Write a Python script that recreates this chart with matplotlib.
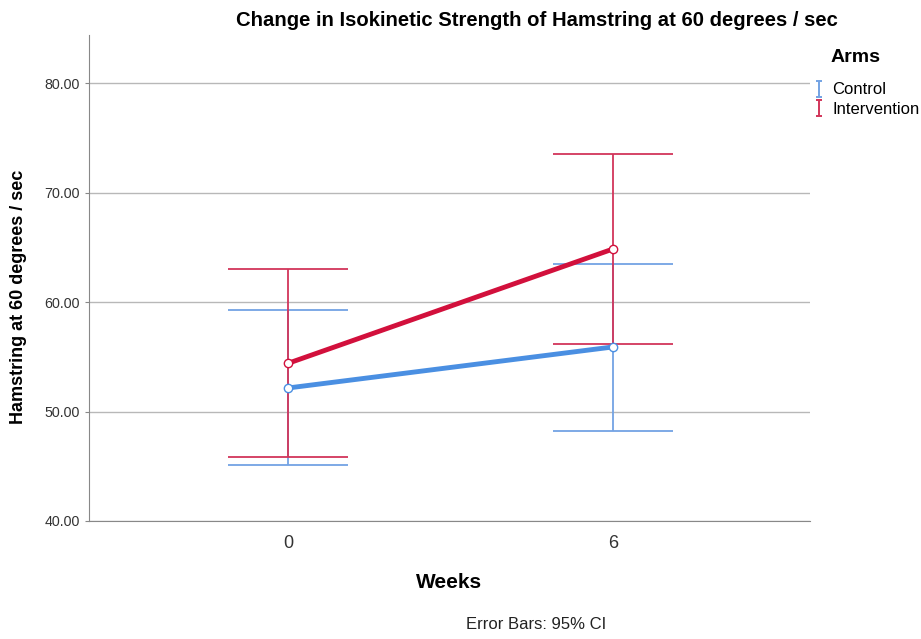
import matplotlib.pyplot as plt
from matplotlib.lines import Line2D
from matplotlib.path import Path

plt.rcParams['font.family'] = ['Liberation Sans', 'DejaVu Sans']

weeks = ["0", "6"]
arms = ["Control", "Intervention"]
means = {"Control": [52.15, 55.9], "Intervention": [54.4, 64.85]}
upper = {"Control": [59.3, 63.5], "Intervention": [63.0, 73.5]}
lower = {"Control": [45.1, 48.2], "Intervention": [45.8, 56.2]}
line_colors = {"Control": "#4a8fe2", "Intervention": "#d2103c"}
bar_colors = {"Control": "#73a3e4", "Intervention": "#d2355a"}

fig = plt.figure(figsize=(9.21, 6.39), dpi=100)
ax = fig.add_axes([0.0966, 0.1847, 0.7829, 0.7605])

x = list(range(len(weeks)))
for arm in arms:
    m = means[arm]
    err = [[m[i] - lower[arm][i] for i in x], [upper[arm][i] - m[i] for i in x]]
    ax.errorbar(x, m, yerr=err, fmt='none', ecolor=bar_colors[arm],
                elinewidth=1.3, capsize=43, capthick=1.3, zorder=3)
    ax.plot(x, m, color=line_colors[arm], lw=3.5, zorder=4,
            marker='o', markersize=6, markerfacecolor='white',
            markeredgecolor=line_colors[arm], markeredgewidth=1)

ax.set_xlim(-0.612, 1.606)
ax.set_ylim(40, 84.4)
ax.set_yticks([40, 50, 60, 70, 80])
ax.set_yticklabels(["40.00", "50.00", "60.00", "70.00", "80.00"])
ax.set_xticks(x)
ax.set_xticklabels(weeks)
ax.yaxis.grid(True, color='#b8b8b8', lw=1)
ax.set_axisbelow(True)
for s in ['top', 'right']:
    ax.spines[s].set_visible(False)
for s in ['left', 'bottom']:
    ax.spines[s].set_color('#888888')
ax.tick_params(axis='y', labelsize=10.3, colors='#333333', length=3, color='#888888')
ax.tick_params(axis='x', labelsize=13, colors='#333333', length=0, pad=10)

fig.text(0.583, 0.968, "Change in Isokinetic Strength of Hamstring at 60 degrees / sec",
         ha='center', va='center', fontsize=14.6, fontweight='bold')
fig.text(0.488, 0.089, "Weeks", ha='center', va='center', fontsize=15, fontweight='bold')
fig.text(0.020, 0.535, "Hamstring at 60 degrees / sec", ha='center', va='center',
         rotation=90, fontsize=13, fontweight='bold')
fig.text(0.582, 0.022, "Error Bars: 95% CI", ha='center', va='center', fontsize=12,
         color='#222222')

# error bar shaped legend icon
ibar = Path([(-0.45, -1), (0.45, -1), (0, -1), (0, 1), (-0.45, 1), (0.45, 1)],
            [Path.MOVETO, Path.LINETO, Path.MOVETO, Path.LINETO, Path.MOVETO, Path.LINETO])

fig.text(0.9285, 0.91, "Arms", ha='center', va='center', fontsize=14, fontweight='bold')
handles = [Line2D([], [], linestyle='none', marker=ibar, markersize=11,
                  markerfacecolor='none', markeredgewidth=1.4,
                  markeredgecolor=bar_colors[a]) for a in arms]
leg = fig.legend(handles, arms, loc='upper left', bbox_to_anchor=(0.875, 0.884),
                 frameon=False, fontsize=12, handlelength=0.6,
                 handletextpad=0.5, labelspacing=0.25, borderpad=0)

fig.savefig("out.png", dpi=100)
